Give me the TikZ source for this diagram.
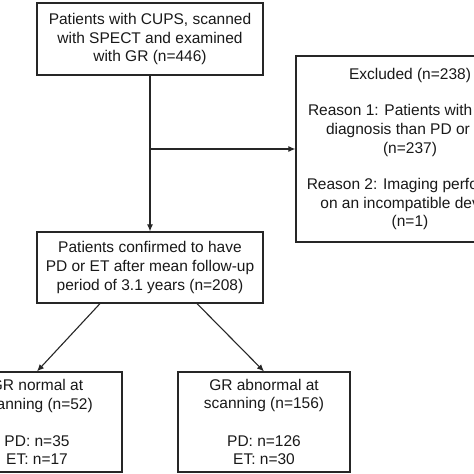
\documentclass[tikz,border=0pt]{standalone}
\usepackage{fontspec}
\setmainfont{Liberation Sans}
\usetikzlibrary{arrows.meta,calc}
\begin{document}
\begin{tikzpicture}[x=1pt,y=-1pt,
  box/.style={draw=black!85, line width=1.2pt, align=center, inner sep=0pt,
    font=\fontsize{15.5}{18.6}\selectfont, text=black!90},
  conn/.style={draw=black!85, line width=1.1pt},
  arr/.style={conn, -{Latex[length=7pt,width=6pt]}}]
\useasboundingbox (0,0) rectangle (474,474);
\clip (0,0) rectangle (474,474);
\fill[white] (0,0) rectangle (474,474);
\node[box, minimum width=226pt, minimum height=72pt] (top) at (150,39)
  {Patients with CUPS, scanned\\with SPECT and examined\\with GR (n=446)};
\node[box, minimum width=228pt, minimum height=186pt] (excl) at (410,149)
  {Excluded (n=238)\\[18pt]Reason 1: Patients with other\\diagnosis than PD or ET\\(n=237)\\[18pt]Reason 2: Imaging performed\\on an incompatible device\\(n=1)};
\node[box, minimum width=226pt, minimum height=71pt] (mid) at (150,267.5)
  {Patients confirmed to have\\PD or ET after mean follow-up\\period of 3.1 years (n=208)};
\node[box, minimum width=170pt, minimum height=100pt] (normal) at (37,422)
  {GR normal at\\scanning (n=52)\\[18.6pt]PD: n=35\\ET: n=17};
\node[box, minimum width=172pt, minimum height=100pt] (abnormal) at (264,422)
  {GR abnormal at\\scanning (n=156)\\[18.6pt]PD: n=126\\ET: n=30};
\coordinate (j) at (150,149);
\coordinate (ml) at ($(mid.south)+(-50,0)$);
\coordinate (mr) at ($(mid.south)+(47,0)$);
\draw[arr] (top.south) -- (mid.north);
\draw[arr] (j) -- (excl.west);
\draw[arr] (ml) -- (normal.north);
\draw[arr] (mr) -- (abnormal.north);
\end{tikzpicture}
\end{document}
